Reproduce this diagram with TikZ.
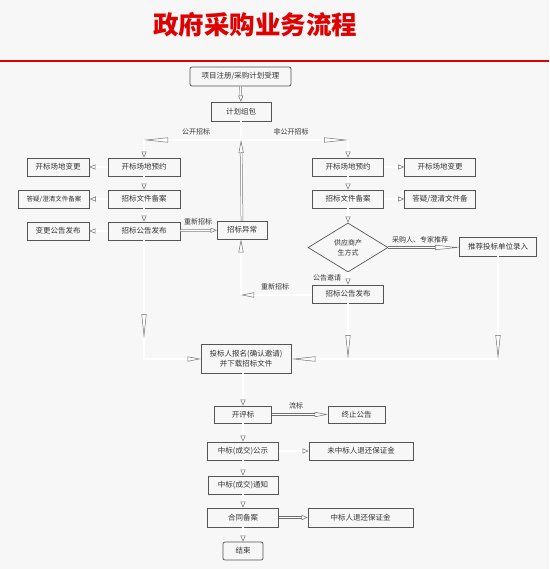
\documentclass[tikz,border=0pt]{standalone}
\usepackage{fontspec}
\setmainfont{Noto Sans CJK SC}
\usetikzlibrary{arrows.meta,shapes.geometric}
\definecolor{bg}{HTML}{F7F7F7}
\definecolor{ln}{HTML}{707070}
\definecolor{bd}{HTML}{555555}
\definecolor{tx}{HTML}{333333}
\definecolor{ttl}{HTML}{E00000}
\begin{document}
\begin{tikzpicture}[x=1pt,y=-1pt,
 box/.style={draw=bd, line width=0.7pt, fill=bg, inner sep=0pt, text=tx, font=\fontsize{7.5}{9}\selectfont, align=center},
 conn/.style={draw=ln, line width=0.5pt, double=white, double distance=1.4pt},
 tipS/.style={conn, -{Triangle[open,fill=white,length=6pt,width=5pt,line width'=0.5pt]}},
 tipM/.style={conn, -{Triangle[open,fill=white,length=13pt,width=5pt,line width'=0.5pt]}},
 tipL/.style={conn, -{Triangle[open,fill=white,length=24pt,width=5pt,line width'=0.5pt]}},
 lab/.style={text=tx, font=\fontsize{7}{8}\selectfont, inner sep=1pt}]
\fill[bg] (0,0) rectangle (549,569);
\useasboundingbox (0,0) rectangle (549,569);
\node[text=ttl, font=\fontsize{25.5}{27}\selectfont\bfseries] (title) at (255,25) {政府采购业务流程};
\draw[ttl, line width=1.3pt] (0,61) -- (549,61);

% nodes
\node[box, rounded corners=2pt, minimum width=101pt, minimum height=19pt] (n1) at (240.5,76.5) {项目注册/采购计划受理};
\node[box, minimum width=60pt, minimum height=19pt] (n2) at (241,111.5) {计划组包};
\coordinate (J) at (241,140);
\coordinate (LJ) at (144,140);
\coordinate (RJ) at (348,140);

\node[box, minimum width=72pt, minimum height=18pt] (L1) at (144,167) {开标场地预约};
\node[box, minimum width=62pt, minimum height=18pt] (LL1) at (58,167) {开标场地变更};
\node[box, minimum width=72pt, minimum height=18pt] (L2) at (144,199) {招标文件备案};
\node[box, minimum width=71pt, minimum height=18pt, font=\fontsize{6.5}{8}\selectfont] (LL2) at (54,199) {答疑/澄清文件备案};
\node[box, minimum width=72pt, minimum height=18pt] (L3) at (144,231) {招标公告发布};
\node[box, minimum width=62pt, minimum height=18pt] (LL3) at (58,231) {变更公告发布};
\node[box, minimum width=50pt, minimum height=18pt] (E) at (242,230) {招标异常};

\node[box, minimum width=71pt, minimum height=18pt] (R1) at (348,167) {开标场地预约};
\node[box, minimum width=71pt, minimum height=18pt] (RR1) at (440,167) {开标场地变更};
\node[box, minimum width=71pt, minimum height=18pt] (R2) at (348,199) {招标文件备案};
\node[box, minimum width=71pt, minimum height=18pt] (RR2) at (440,199) {答疑/澄清文件备};
\node[box, diamond, minimum width=80pt, minimum height=49pt, font=\fontsize{7}{10}\selectfont] (D) at (348,247.5) {供应商产\\生方式};
\node[box, minimum width=77pt, minimum height=19pt] (P) at (498,246.5) {推荐投标单位录入};
\node[box, minimum width=71pt, minimum height=18pt] (R3) at (348,294) {招标公告发布};

\node[box, minimum width=90pt, minimum height=29pt, font=\fontsize{7.5}{10}\selectfont] (B) at (246,358.5) {投标人报名(确认邀请)\\并下载招标文件};
\node[box, minimum width=57pt, minimum height=17pt] (K) at (243,414.5) {开评标};
\node[box, minimum width=57pt, minimum height=17pt] (T) at (356.5,414.5) {终止公告};
\node[box, minimum width=71pt, minimum height=18pt] (G1) at (243,451) {中标(成交)公示};
\node[box, minimum width=104pt, minimum height=18pt] (G2) at (361,451) {未中标人退还保证金};
\node[box, minimum width=70pt, minimum height=18pt] (N) at (243,485) {中标(成交)通知};
\node[box, minimum width=71pt, minimum height=19pt] (C) at (243,517.5) {合同备案};
\node[box, minimum width=105pt, minimum height=19pt] (C2) at (360.5,517.5) {中标人退还保证金};
\node[box, rounded corners=2pt, minimum width=40pt, minimum height=18pt] (End) at (243,551) {结束};

% connectors
\draw[tipS] (n1) -- (n2);
\draw[conn] (n2.south) -- (J);
\draw[tipL] (J) -- (LJ);
\draw[tipS] (LJ) -- (L1.north);
\draw[tipL] (J) -- (RJ);
\draw[tipS] (RJ) -- (R1.north);
\node[lab] (lb1) at (196,132) {公开招标};
\node[lab] (lb2) at (291,132) {非公开招标};

\draw[tipS] (L1) -- (LL1);
\draw[tipS] (L2) -- (LL2);
\draw[tipS] (L3) -- (LL3);
\draw[tipS] (L1) -- (L2);
\draw[tipS] (L2) -- (L3);
\draw[tipS] (L3) -- (E);
\node[lab] (lb3) at (198,222) {重新招标};
\draw[tipM] (E.north) -- (J);

\coordinate (Lm) at (144,338);
\coordinate (Lc) at (144,359);
\draw[tipL] (L3.south) -- (Lm);
\draw[tipM] (Lm) -- (Lc) -- (B.west |- Lc);

\draw[tipS] (R1) -- (RR1);
\draw[tipS] (R2) -- (RR2);
\draw[tipS] (R1) -- (R2);
\draw[tipS] (R2) -- (D.north);
\draw[tipL] (D.east) -- (P.west |- D.east);
\node[lab] (lb4) at (420,240) {采购人、专家推荐};
\draw[tipS] (D.south) -- (R3.north);
\node[lab] (lb5) at (327,278) {公告邀请};

\coordinate (Ec) at (241,295);
\draw[tipM] (R3.west |- Ec) -- (Ec);
\draw[tipM] (Ec) -- (E.south -| Ec);
\node[lab] (lb6) at (275,287) {重新招标};

\coordinate (Rc) at (348,359);
\coordinate (Pc) at (498,359);
\draw[tipL] (R3.south) -- (Rc);
\draw[tipL] (P.south) -- (Pc);
\draw[conn] (Pc) -- (Rc);
\draw[tipL] (Rc) -- (B.east |- Rc);

\draw[tipS] (B.south -| K.north) -- (K.north);
\draw[tipM] (K) -- (T);
\node[lab] (lb7) at (296,406) {流标};
\draw[tipS] (K) -- (G1);
\draw[tipS] (G1) -- (G2);
\draw[tipS] (G1) -- (N);
\draw[tipS] (N) -- (C);
\draw[tipS] (C) -- (C2);
\draw[tipS] (C) -- (End);
\end{tikzpicture}
\end{document}
